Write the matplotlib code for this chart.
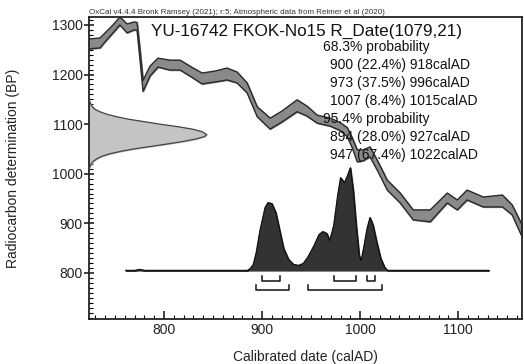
import matplotlib
matplotlib.use("Agg")
import matplotlib.pyplot as plt
from matplotlib.ticker import MultipleLocator

# calibration curve (IntCal20 band): year, BP centre, half width
curve_year = [723.5, 734.7, 739.8, 748, 755, 762.3, 769.4, 772.5, 775.5, 778.6, 785.7,
              793.9, 806, 816.4, 828, 838.8, 852, 864.3, 874.5, 884.7, 895, 908.2,
              920, 935.7, 946, 956.2, 969.4, 979.6, 986.8, 992, 997, 1003, 1010,
              1018, 1027.6, 1040.8, 1054, 1071.4, 1088.8, 1099, 1109, 1125.5, 1145,
              1155, 1165]
curve_bp = [1261.7, 1263.7, 1274.8, 1292, 1308, 1293, 1298, 1297, 1240, 1177, 1207,
            1224, 1219, 1219, 1205, 1192, 1196, 1201, 1194, 1173, 1125, 1101,
            1115, 1137, 1126, 1110, 1104, 1095, 1084, 1062, 1036, 1037, 1044,
            1015, 977, 951, 917, 915, 951, 937, 957, 943, 945,
            927, 885]
curve_err = [10, 10, 9, 8, 8, 9, 8, 8, 10, 11, 10,
             9, 10, 10, 10, 11, 11, 12, 11, 10, 10, 11,
             11, 12, 10, 8, 8, 8, 9, 10, 12, 11, 10,
             10, 10, 10, 10, 12, 10, 10, 10, 10, 12,
             10, 12]

# radiocarbon measurement R_Date(1079,21), profile width in years
rdate_bp = [1010, 1020, 1025, 1030, 1035, 1040, 1045, 1050, 1055, 1060, 1065, 1070,
            1075, 1079, 1085, 1090, 1095, 1100, 1105, 1110, 1115, 1120, 1125,
            1130, 1135, 1140, 1150]
rdate_w = [0, 2.3, 4.4, 7.9, 13, 21, 32, 46, 63, 80, 96, 109,
           118, 120, 115, 105, 90, 72, 56, 40, 28, 18, 11,
           6, 3.4, 1.8, 0]

# calibrated probability (relative heights)
post_year = [761, 770, 775, 780, 885, 888, 891, 894, 898, 903, 906, 910, 914, 918,
             922, 927, 932, 937, 942, 947, 953, 958, 962, 966, 969, 973, 977,
             980, 984, 987, 990, 993, 996, 999, 1001, 1004, 1007, 1010, 1013,
             1017, 1021, 1025, 1028, 1131]
post_prob = [0, 0, 1, 0, 0, 2, 6, 18, 41, 63, 68, 67, 58, 40,
             22, 11, 6, 5, 7, 14, 25, 36, 39, 37, 30, 45, 75,
             93, 88, 95, 103, 80, 45, 15, 10, 25, 42, 53, 46,
             28, 12, 3, 0, 0]

range68 = [(900, 918), (973, 996), (1007, 1015)]
range95 = [(894, 927), (947, 1022)]

title = "YU-16742 FKOK-No15 R_Date(1079,21)"
lines = ["68.3% probability",
         "  900 (22.4%) 918calAD",
         "  973 (37.5%) 996calAD",
         "  1007 (8.4%) 1015calAD",
         "95.4% probability",
         "  894 (28.0%) 927calAD",
         "  947 (67.4%) 1022calAD"]
note = "OxCal v4.4.4 Bronk Ramsey (2021); r:5; Atmospheric data from Reimer et al (2020)"

plt.rcParams['font.family'] = ['Liberation Sans', 'DejaVu Sans']

W, H = 524, 364
fig = plt.figure(figsize=(W / 100, H / 100), dpi=100)
ax = fig.add_axes([89 / W, 1 - 319 / H, (522 - 89) / W, (319 - 17) / H])
ax.set_xlim(723.5, 1165)
ax.set_ylim(707, 1316)

# calibration curve band
lo = [b - e for b, e in zip(curve_bp, curve_err)]
hi = [b + e for b, e in zip(curve_bp, curve_err)]
ax.fill_between(curve_year, lo, hi, color="#8a8a8a", zorder=2)
ax.plot(curve_year, lo, color="#2a2a2a", lw=1.0, zorder=3)
ax.plot(curve_year, hi, color="#2a2a2a", lw=1.0, zorder=3)

# measurement profile on y axis
x0 = 723.5
ax.fill_betweenx(rdate_bp, x0, [x0 + w for w in rdate_w], color="#c4c4c4", zorder=2)
ax.plot([x0 + w for w in rdate_w], rdate_bp, color="#444444", lw=0.9, zorder=3)

# posterior distribution
base = 805
scale = 207 / max(post_prob)
top = [base + p * scale for p in post_prob]
ax.fill_between(post_year, base, top, color="#333333", zorder=4)
ax.plot(post_year, top, color="#111111", lw=0.9, zorder=5)

# range brackets
for (a, b) in range68:
    ax.plot([a, a, b, b], [794.6, 784.5, 784.5, 794.6], color="#111111", lw=1.1)
for (a, b) in range95:
    ax.plot([a, a, b, b], [775.8, 765.8, 765.8, 775.8], color="#111111", lw=1.1)

# ticks
ax.xaxis.set_major_locator(MultipleLocator(100))
ax.xaxis.set_minor_locator(MultipleLocator(10))
ax.yaxis.set_major_locator(MultipleLocator(100))
ax.yaxis.set_minor_locator(MultipleLocator(10))
ax.tick_params(axis="x", which="major", direction="in", length=6, width=1.2,
               labelsize=10, pad=3, colors="#222222")
ax.tick_params(axis="x", which="minor", direction="in", length=3, width=0.8)
ax.tick_params(axis="y", which="major", direction="inout", length=7, width=1.2,
               labelsize=10, pad=1, colors="#222222")
ax.tick_params(axis="y", which="minor", direction="in", length=3, width=0.8)
for s in ax.spines.values():
    s.set_linewidth(1.3)
    s.set_color("#222222")

def px(x, y):
    return x / W, 1 - y / H

fig.text(*px(89, 14.5), note, fontsize=5.8, color="#333333", va="baseline")
fig.text(*px(151, 36), title, fontsize=12.3, color="#111111", va="baseline")
for i, line in enumerate(lines):
    xl = 323 if not line.startswith(" ") else 330
    fig.text(*px(xl, 51.5 + i * 17.9), line.strip(), fontsize=10, color="#111111",
             va="baseline")

fig.text(*px(305, 357), "Calibrated date (calAD)", fontsize=10, color="#222222",
         ha="center", va="center")
fig.text(*px(13, 168), "Radiocarbon determination (BP)", fontsize=10, color="#222222",
         ha="center", va="center", rotation=90)

fig.savefig("out.png", dpi=100)
